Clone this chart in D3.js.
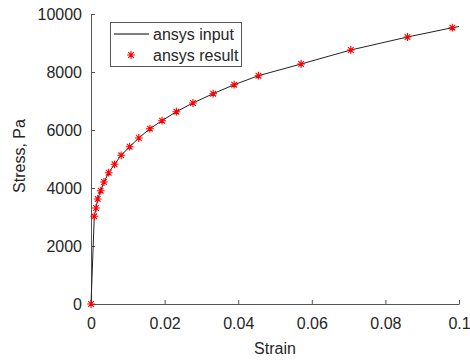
<!DOCTYPE html>
<html>
<head>
<meta charset="utf-8">
<script src="https://cdn.jsdelivr.net/npm/d3@7"></script>
<style>
  body { margin: 0; background: #fff; }
  text { font-family: Helvetica, Arial, "Liberation Sans", sans-serif; fill: #262626; }
</style>
</head>
<body>
<svg id="chart" width="470" height="360"></svg>
<script>
// ansys result points
const resultStrain = [0, 0.0009, 0.00136, 0.00182, 0.00264, 0.00353, 0.0048, 0.0064, 0.0082, 0.0105, 0.013, 0.016, 0.0193, 0.0232, 0.0277, 0.0332, 0.0389, 0.0455, 0.0571, 0.0706, 0.086, 0.0982]
const resultStress = [0, 3024, 3310, 3620, 3907, 4207, 4528, 4817, 5127, 5424, 5724, 6045, 6321, 6631, 6931, 7252, 7562, 7872, 8276, 8759, 9207, 9528]

// ansys input curve
const inputStrain = [0, 0.0009, 0.00136, 0.00182, 0.00264, 0.00353, 0.0048, 0.0064, 0.0082, 0.0105, 0.013, 0.016, 0.0193, 0.0232, 0.0277, 0.0332, 0.0389, 0.0455, 0.0571, 0.0706, 0.086, 0.0982, 0.1]
const inputStress = [0, 3024, 3310, 3620, 3907, 4207, 4528, 4817, 5127, 5424, 5724, 6045, 6321, 6631, 6931, 7252, 7562, 7872, 8276, 8759, 9207, 9528, 9570]

const xTicks = [0, 0.02, 0.04, 0.06, 0.08, 0.1]
const yTicks = [0, 2000, 4000, 6000, 8000, 10000]
const legendLabels = ["ansys input", "ansys result"]

const svg = d3.select("#chart")
const axisColor = "#555"

const x = d3.scaleLinear().domain([0, 0.1]).range([91, 459])
const y = d3.scaleLinear().domain([0, 10000]).range([304, 14])

// asterisk marker, like matlab's '*'
function star(r) {
  const d = r * 0.72
  return "M" + (-r) + ",0L" + r + ",0M0," + (-r) + "L0," + r +
    "M" + (-d) + "," + (-d) + "L" + d + "," + d +
    "M" + (-d) + "," + d + "L" + d + "," + (-d)
}

svg.append("g")
  .attr("transform", "translate(0," + y(0) + ")")
  .call(d3.axisBottom(x).tickValues(xTicks).tickFormat(d => d3.format("~g")(d))
    .tickSizeInner(-4).tickSizeOuter(0).tickPadding(14))

svg.append("g")
  .attr("transform", "translate(" + x(0) + ",0)")
  .call(d3.axisLeft(y).tickValues(yTicks).tickFormat(d => d)
    .tickSizeInner(-4).tickSizeOuter(0).tickPadding(9))

svg.selectAll(".domain, .tick line").attr("stroke", axisColor)
svg.selectAll(".tick text").attr("font-size", 16).attr("fill", "#262626")
  .style("font-family", "Helvetica, Arial, 'Liberation Sans', sans-serif")

// input line
const line = d3.line().x(d => x(d[0])).y(d => y(d[1]))
svg.append("path")
  .datum(d3.zip(inputStrain, inputStress))
  .attr("fill", "none")
  .attr("stroke", "#222")
  .attr("stroke-width", 1)
  .attr("d", line)

// result markers
svg.append("g").selectAll("path")
  .data(d3.zip(resultStrain, resultStress))
  .join("path")
  .attr("transform", d => "translate(" + x(d[0]) + "," + y(d[1]) + ")")
  .attr("d", star(3.9))
  .attr("stroke", "#ff0000")
  .attr("stroke-width", 1.1)
  .attr("fill", "none")

// axis labels
svg.append("text")
  .attr("x", (x(0) + x(0.1)) / 2)
  .attr("y", 354)
  .attr("text-anchor", "middle")
  .attr("font-size", 16)
  .text("Strain")

svg.append("text")
  .attr("transform", "translate(25," + 156 + ") rotate(-90)")
  .attr("text-anchor", "middle")
  .attr("font-size", 16)
  .text("Stress, Pa")

// legend
const legend = svg.append("g")
legend.append("rect")
  .attr("x", 110.5).attr("y", 22.5)
  .attr("width", 131).attr("height", 44)
  .attr("fill", "#fff")
  .attr("stroke", axisColor)
  .attr("stroke-width", 1)

legend.append("line")
  .attr("x1", 114).attr("x2", 149)
  .attr("y1", 34).attr("y2", 34)
  .attr("stroke", "#000")

legend.append("path")
  .attr("transform", "translate(131,55)")
  .attr("d", star(3.9))
  .attr("stroke", "#ff0000")
  .attr("stroke-width", 1.1)

legend.selectAll("text")
  .data(legendLabels)
  .join("text")
  .attr("x", 153)
  .attr("y", (d, i) => 40 + i * 21)
  .attr("font-size", 16)
  .text(d => d)
</script>
</body>
</html>
